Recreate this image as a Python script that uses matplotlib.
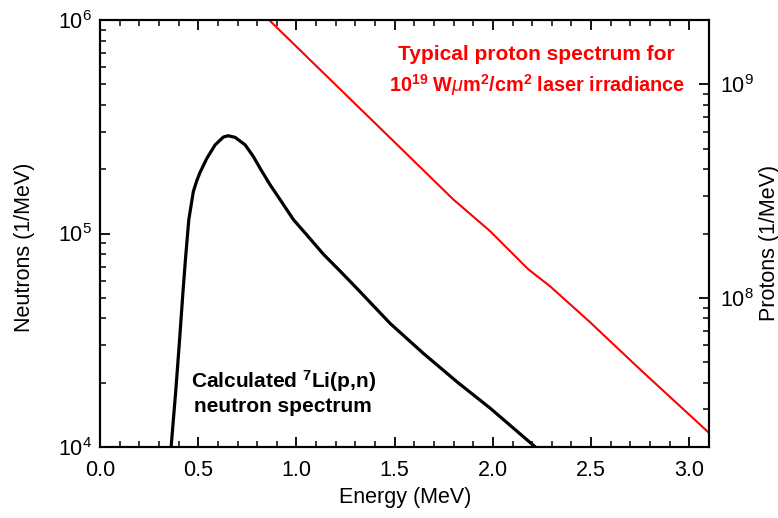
import math
import matplotlib
matplotlib.use("Agg")
import matplotlib.pyplot as plt
from matplotlib.ticker import LogLocator, NullFormatter, FuncFormatter, MultipleLocator

plt.rcParams['font.family'] = ['Liberation Sans', 'DejaVu Sans']
plt.rcParams['mathtext.fontset'] = 'custom'
plt.rcParams['mathtext.rm'] = 'Liberation Sans'
plt.rcParams['mathtext.it'] = 'Liberation Sans:italic'
plt.rcParams['mathtext.bf'] = 'Liberation Sans:bold'

# Neutron spectrum (left axis)
neutron_energy = [0.352, 0.362, 0.386, 0.405, 0.423, 0.436, 0.452, 0.475, 0.492, 0.509, 0.544,
                  0.586, 0.628, 0.653, 0.688, 0.739, 0.781, 0.815, 0.866, 0.917, 0.985,
                  1.053, 1.137, 1.220, 1.307, 1.477, 1.647, 1.817, 1.986, 2.216, 2.26]
neutron_values = [8.0e3, 1.0e4, 1.85e4, 3.17e4, 5.43e4, 7.78e4, 1.16e5, 1.57e5, 1.76e5, 1.93e5, 2.25e5,
                  2.60e5, 2.83e5, 2.87e5, 2.82e5, 2.60e5, 2.29e5, 2.02e5, 1.69e5, 1.44e5, 1.16e5,
                  9.84e4, 8.0e4, 6.7e4, 5.54e4, 3.79e4, 2.74e4, 2.02e4, 1.52e4, 1.0e4, 9.3e3]

# Proton spectrum (right axis)
proton_energy = [0.80, 0.856, 1.200, 1.500, 1.798, 1.986, 2.180, 2.292, 2.496, 2.750, 3.10, 3.15]
proton_values = [2.26e9, 2.02e9, 9.93e8, 5.35e8, 2.89e8, 2.05e8, 1.36e8, 1.13e8, 7.66e7,
                 4.61e7, 2.33e7, 2.1e7]

x_ticks = [0.0, 0.5, 1.0, 1.5, 2.0, 2.5, 3.0]

W, H = 778, 518
fig = plt.figure(figsize=(W / 100, H / 100), dpi=100)
ax = fig.add_axes([100 / W, 1 - 447 / H, (709 - 100) / W, (447 - 20) / H])
ax2 = ax.twinx()

ax.plot(neutron_energy, neutron_values, color='black', lw=2.3)
ax2.plot(proton_energy, proton_values, color='red', lw=1.5)

ax.set_xlim(0, 3.1)
ax.set_yscale('log')
ax.set_ylim(1e4, 1e6)
ax2.set_yscale('log')
ax2.set_ylim(2e7, 2e9)


def logfmt(v, pos):
    e = int(round(math.log10(v)))
    return r'$10^{%d}$' % e


for a in (ax, ax2):
    a.yaxis.set_major_locator(LogLocator(base=10, numticks=10))
    a.yaxis.set_minor_locator(LogLocator(base=10, subs=range(2, 10), numticks=10))
    a.yaxis.set_major_formatter(FuncFormatter(logfmt))
    a.yaxis.set_minor_formatter(NullFormatter())
    for s in a.spines.values():
        s.set_linewidth(1.5)

ax.set_xticks(x_ticks)
ax.set_xticklabels(['%.1f' % t for t in x_ticks])
ax.xaxis.set_minor_locator(MultipleLocator(0.1))

FS = 15.5
ax.tick_params(axis='x', which='both', direction='in', top=True, bottom=True, labelsize=FS, pad=9)
ax.tick_params(axis='x', which='major', length=7, width=1.3)
ax.tick_params(axis='x', which='minor', length=4, width=1.1)
ax.tick_params(axis='y', which='both', direction='in', left=True, right=False, labelsize=FS, pad=6)
ax.tick_params(axis='y', which='major', length=7, width=1.3)
ax.tick_params(axis='y', which='minor', length=4, width=1.1)
ax2.tick_params(axis='y', which='both', direction='in', right=True, labelsize=FS, pad=8)
ax2.tick_params(axis='y', which='major', length=7, width=1.3)
ax2.tick_params(axis='y', which='minor', length=4, width=1.1)


def place(px, py, s, **kw):
    fig.text(px / W, 1 - py / H, s, **kw)


place(405, 497, 'Energy (MeV)', fontsize=FS, ha='center', va='center')
place(25, 247, 'Neutrons (1/MeV)', fontsize=FS, ha='center', va='center', rotation=90)
place(769, 243, 'Protons (1/MeV)', fontsize=FS, ha='center', va='center', rotation=90)

place(536, 55, 'Typical proton spectrum for', color='red', fontsize=15, fontweight='bold',
      ha='center', va='center')
place(537, 85, r'10$^{\mathbf{19}}$ W$\mu$m$^{\mathbf{2}}$/cm$^{\mathbf{2}}$ laser irradiance',
      color='red', fontsize=14.3, fontweight='bold', ha='center', va='center')
place(284, 381, r'Calculated $^{\mathbf{7}}$Li(p,n)', color='black', fontsize=15,
      fontweight='bold', ha='center', va='center')
place(283, 407, 'neutron spectrum', color='black', fontsize=15, fontweight='bold',
      ha='center', va='center')

fig.savefig('out.png', dpi=100)
